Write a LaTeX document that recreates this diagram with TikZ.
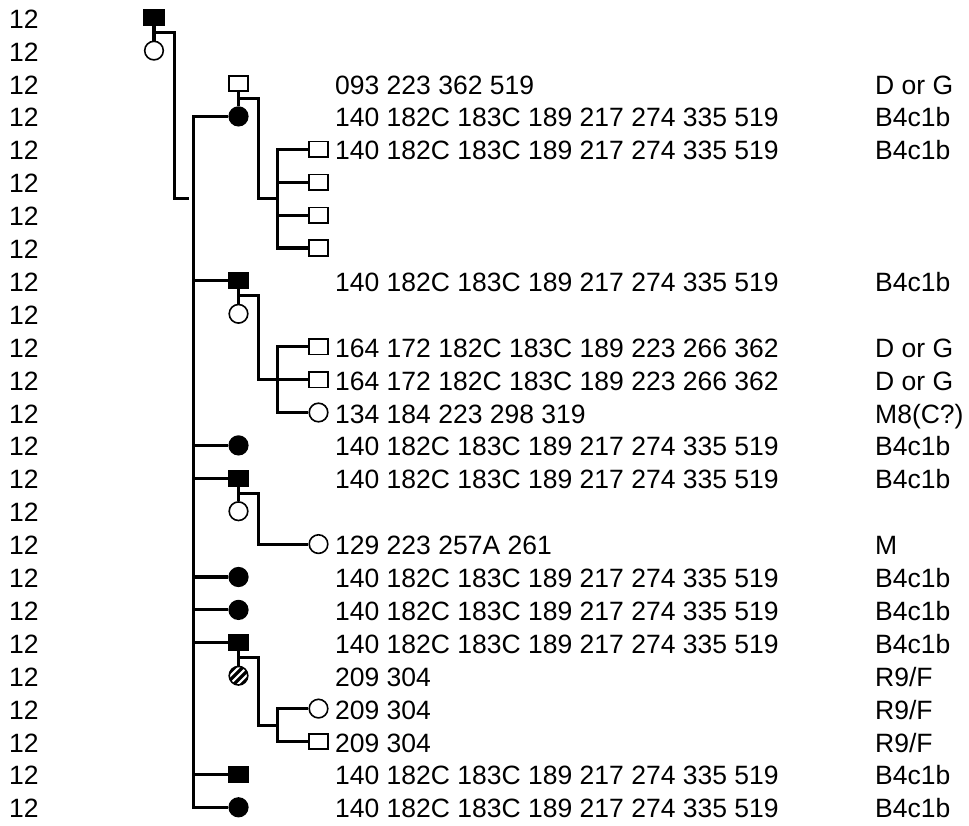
\documentclass[tikz,border=0pt]{standalone}
\usepackage{fontspec}
\setmainfont{Liberation Sans}
\begin{document}
\begin{tikzpicture}[x=1pt,y=-32.9pt,
  conn/.style={line width=3.1pt},
  sq/.style={draw, rectangle, line width=1.6pt, minimum width=19.5pt, minimum height=15.5pt, inner sep=0pt, fill=white},
  fsq/.style={sq, fill=black},
  ci/.style={draw, circle, line width=1.6pt, minimum size=18.6pt, inner sep=0pt, fill=white},
  fci/.style={ci, fill=black},
  hci/.style={ci, fill=black, path picture={
      \foreach \a/\b in {-8/8,-4/4,0/0,4/-4,8/-8}
        \draw[white, line width=2.1pt, x=1pt, y=1pt, shift={(path picture bounding box.center)}]
          (\a-15,\b-15) -- (\a+15,\b+15);}},
  lab/.style={anchor=base west, inner sep=0pt, yshift=-10.5pt, font=\fontsize{26.5}{30}\selectfont}]

\useasboundingbox (0,-0.538) rectangle (969,24.538);

% row numbers
\foreach \i in {0,...,24} \node[lab] (n\i) at (9,\i) {12};

% haplotype texts
\def\hap{140 182C 183C 189 217 274 335 519}
\node[lab] (a2)  at (335,2)  {093 223 362 519};
\node[lab] (b2)  at (875,2)  {D or G};
\node[lab] (a3)  at (335,3)  {\hap};
\node[lab] (b3)  at (875,3)  {B4c1b};
\node[lab] (a4)  at (335,4)  {\hap};
\node[lab] (b4)  at (875,4)  {B4c1b};
\node[lab] (a8)  at (335,8)  {\hap};
\node[lab] (b8)  at (875,8)  {B4c1b};
\node[lab] (a10) at (335,10) {164 172 182C 183C 189 223 266 362};
\node[lab] (b10) at (875,10) {D or G};
\node[lab] (a11) at (335,11) {164 172 182C 183C 189 223 266 362};
\node[lab] (b11) at (875,11) {D or G};
\node[lab] (a12) at (335,12) {134 184 223 298 319};
\node[lab] (b12) at (875,12) {M8(C?)};
\node[lab] (a13) at (335,13) {\hap};
\node[lab] (b13) at (875,13) {B4c1b};
\node[lab] (a14) at (335,14) {\hap};
\node[lab] (b14) at (875,14) {B4c1b};
\node[lab] (a16) at (335,16) {129 223 257A 261};
\node[lab] (b16) at (875,16) {M};
\node[lab] (a17) at (335,17) {\hap};
\node[lab] (b17) at (875,17) {B4c1b};
\node[lab] (a18) at (335,18) {\hap};
\node[lab] (b18) at (875,18) {B4c1b};
\node[lab] (a19) at (335,19) {\hap};
\node[lab] (b19) at (875,19) {B4c1b};
\node[lab] (a20) at (335,20) {209 304};
\node[lab] (b20) at (875,20) {R9/F};
\node[lab] (a21) at (335,21) {209 304};
\node[lab] (b21) at (875,21) {R9/F};
\node[lab] (a22) at (335,22) {209 304};
\node[lab] (b22) at (875,22) {R9/F};
\node[lab] (a23) at (335,23) {\hap};
\node[lab] (b23) at (875,23) {B4c1b};
\node[lab] (a24) at (335,24) {\hap};
\node[lab] (b24) at (875,24) {B4c1b};

% symbols
\node[fsq] (s0)  at (154,0)   {};
\node[ci]  (c1)  at (154,1)   {};
\node[sq]  (s2)  at (238.5,2) {};
\node[fci] (c3)  at (238.5,3) {};
\node[sq]  (s4)  at (318.5,4) {};
\node[sq]  (s5)  at (318.5,5) {};
\node[sq]  (s6)  at (318.5,6) {};
\node[sq]  (s7)  at (318.5,7) {};
\node[fsq] (s8)  at (238.5,8) {};
\node[ci]  (c9)  at (238.5,9) {};
\node[sq]  (s10) at (318.5,10) {};
\node[sq]  (s11) at (318.5,11) {};
\node[ci]  (c12) at (318.5,12) {};
\node[fci] (c13) at (238.5,13) {};
\node[fsq] (s14) at (238.5,14) {};
\node[ci]  (c15) at (238.5,15) {};
\node[ci]  (c16) at (318.5,16) {};
\node[fci] (c17) at (238.5,17) {};
\node[fci] (c18) at (238.5,18) {};
\node[fsq] (s19) at (238.5,19) {};
\node[hci] (c20) at (238.5,20) {};
\node[ci]  (c21) at (318.5,21) {};
\node[sq]  (s22) at (318.5,22) {};
\node[fsq] (s23) at (238.5,23) {};
\node[fci] (c24) at (238.5,24) {};

% generation 1
\draw[conn] (s0) -- (c1);
\coordinate (m0)  at (154,0.45);
\coordinate (g1)  at (174.7,5.5);
\coordinate (g1e) at (188.5,5.5);
\draw[conn] (m0) -| (g1) -- (g1e);

% main sibling line
\coordinate (mb) at (193.2,24);
\draw[conn] (c3) -| (mb) -- (c24);
\foreach \n in {s8,c13,s14,c17,c18,s19,s23}
  \draw[conn] (\n.west) -- (\n.west -| mb);

% family rows 2/3
\draw[conn] (s2) -- (c3);
\coordinate (m2) at (238.5,2.45);
\coordinate (d2) at (258.8,5.5);
\coordinate (e2) at (277.5,5.5);
\coordinate (bb2) at (277.5,7);
\draw[conn] (m2) -| (d2) -- (e2);
\draw[conn] (s4.west) -| (bb2) -- (s7.west);
\foreach \n in {s5,s6}
  \draw[conn] (\n.west) -- (\n.west -| bb2);

% family rows 8/9
\draw[conn] (s8) -- (c9);
\coordinate (m8) at (238.5,8.45);
\coordinate (d8) at (258.8,11);
\coordinate (e8) at (277.5,11);
\coordinate (bb8) at (277.5,12);
\draw[conn] (m8) -| (d8) -- (e8);
\draw[conn] (s10.west) -| (bb8) -- (c12.west);
\draw[conn] (s11.west) -- (s11.west -| bb8);

% family rows 14/15
\draw[conn] (s14) -- (c15);
\coordinate (m14) at (238.5,14.45);
\coordinate (d14) at (258.8,16);
\draw[conn] (m14) -| (d14) -- (c16.west);

% family rows 19/20
\draw[conn] (s19) -- (c20);
\coordinate (m19) at (238.5,19.45);
\coordinate (d19) at (258.8,21.5);
\coordinate (e19) at (277.5,21.5);
\coordinate (bb19) at (277.5,22);
\draw[conn] (m19) -| (d19) -- (e19);
\draw[conn] (c21.west) -| (bb19) -- (s22.west);
\end{tikzpicture}
\end{document}
